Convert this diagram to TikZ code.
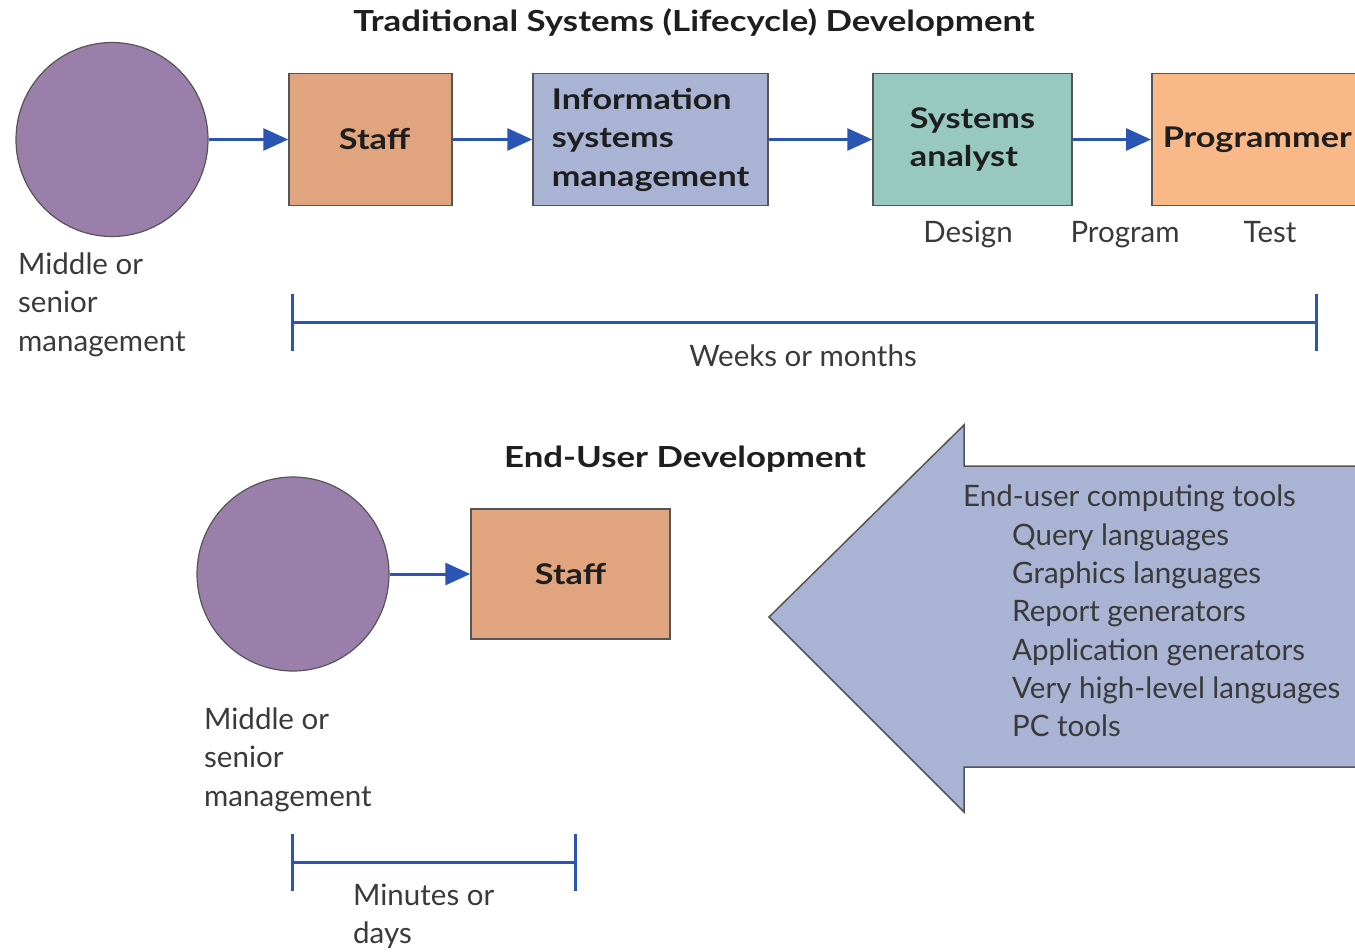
\documentclass[tikz,border=0pt]{standalone}
\usepackage{fontspec}
\setmainfont{Lato}[BoldFeatures={FakeStretch=1.2}]
\usetikzlibrary{arrows.meta,shapes.geometric}
\definecolor{mgmt}{HTML}{9B7FAB}
\definecolor{staffc}{HTML}{E0A47E}
\definecolor{isc}{HTML}{A9B4D4}
\definecolor{sac}{HTML}{98C9C0}
\definecolor{progc}{HTML}{F9B887}
\definecolor{bigarrow}{HTML}{A9B3D3}
\definecolor{flowblue}{HTML}{2A55B5}
\definecolor{textgray}{HTML}{3A3A3A}
\definecolor{boldtext}{HTML}{1E1E1E}
\definecolor{edge}{HTML}{555555}
\begin{document}
\begin{tikzpicture}[x=1pt,y=-1pt,
  person/.style={ellipse, draw=edge, line width=1.2pt, fill=mgmt, minimum width=192pt, minimum height=194pt, inner sep=0pt},
  box/.style={rectangle, draw=edge, line width=1.5pt, inner sep=0pt, align=left,
    font=\fontsize{28.5}{38.5}\selectfont\bfseries, text=boldtext},
  flow/.style={draw=flowblue, line width=3pt, -{Triangle[length=25pt,width=22pt]}},
  bracket/.style={draw=flowblue, line width=3pt},
  lbl/.style={font=\fontsize{29.5}{35}\selectfont, text=textgray, inner sep=0pt, text height=21pt, text depth=3pt},
  ttl/.style={font=\fontsize{29}{35}\selectfont\bfseries, text=boldtext, inner sep=0pt, text height=21pt, text depth=3pt}
]
\useasboundingbox (0,0) rectangle (1355,951);
\clip (0,0) rectangle (1355,951);

% ---------- Traditional ----------
\node[ttl] (title1) at (694,22) {Traditional Systems (Lifecycle) Development};
\node[person] (m1) at (112,139.5) {};
\node[box, fill=staffc, minimum width=163pt, minimum height=132pt] (staff1) at (370.5,139.5) {\hspace*{8pt}Staff};
\node[box, fill=isc, minimum width=235pt, minimum height=132pt] (ism) at (650.5,139.5) {Information\\systems\\management};
\node[box, fill=sac, minimum width=199pt, minimum height=132pt] (sa) at (972.5,139.5) {Systems\\analyst};
\node[box, fill=progc, minimum width=252pt, minimum height=132pt, anchor=west, text width=230pt, inner xsep=11pt] (prog) at (1151,139.5) {Programmer};

\draw[flow] (m1.east) -- (staff1.west);
\draw[flow] (staff1.east) -- (ism.west);
\draw[flow] (ism.east) -- (sa.west);
\draw[flow] (sa.east) -- (prog.west);

\node[lbl] (design) at (968,233) {Design};
\node[lbl] (program) at (1125,233) {Program};
\node[lbl] (test) at (1270,233) {Test};

\node[lbl, anchor=west] (m1a) at (18,265) {Middle or};
\node[lbl, anchor=west] (m1b) at (18,303) {senior};
\node[lbl, anchor=west] (m1c) at (18,342) {management};

\coordinate (b1l) at (292,322);
\coordinate (b1r) at (1316,322);
\draw[bracket] (b1l) -- (b1r);
\draw[bracket] ([yshift=28pt]b1l) -- ([yshift=-29pt]b1l);
\draw[bracket] ([yshift=28pt]b1r) -- ([yshift=-29pt]b1r);
\node[lbl] (weeks) at (803,357) {Weeks or months};

% ---------- End-user ----------
\node[ttl] (title2) at (685,458) {End-User Development};
\node[person] (m2) at (293,574) {};
\node[box, fill=staffc, minimum width=199pt, minimum height=130pt] (staff2) at (570.5,574) {Staff};
\draw[flow] (m2.east) -- (staff2.west);

\node[lbl, anchor=west] (m2a) at (204,720) {Middle or};
\node[lbl, anchor=west] (m2b) at (204,758) {senior};
\node[lbl, anchor=west] (m2c) at (204,797) {management};

\coordinate (b2l) at (292,862);
\coordinate (b2r) at (575,862);
\draw[bracket] (b2l) -- (b2r);
\draw[bracket] ([yshift=28pt]b2l) -- ([yshift=-29pt]b2l);
\draw[bracket] ([yshift=28pt]b2r) -- ([yshift=-29pt]b2r);
\node[lbl, anchor=west] (min1) at (353,896) {Minutes or};
\node[lbl, anchor=west] (min2) at (353,934) {days};

% big arrow
\draw[draw=edge, line width=1.5pt, fill=bigarrow, line join=miter]
  (769,617) -- (964,425) -- (964,466) -- (1362,466) -- (1362,767) -- (964,767) -- (964,812) -- cycle;
\node[lbl, anchor=west] (tools) at (963,497) {End-user computing tools};
\node[lbl, anchor=west] (t1) at (1012,536) {Query languages};
\node[lbl, anchor=west] (t2) at (1012,574) {Graphics languages};
\node[lbl, anchor=west] (t3) at (1012,612) {Report generators};
\node[lbl, anchor=west] (t4) at (1012,651) {Application generators};
\node[lbl, anchor=west] (t5) at (1012,689) {Very high-level languages};
\node[lbl, anchor=west] (t6) at (1012,727) {PC tools};
\end{tikzpicture}
\end{document}
